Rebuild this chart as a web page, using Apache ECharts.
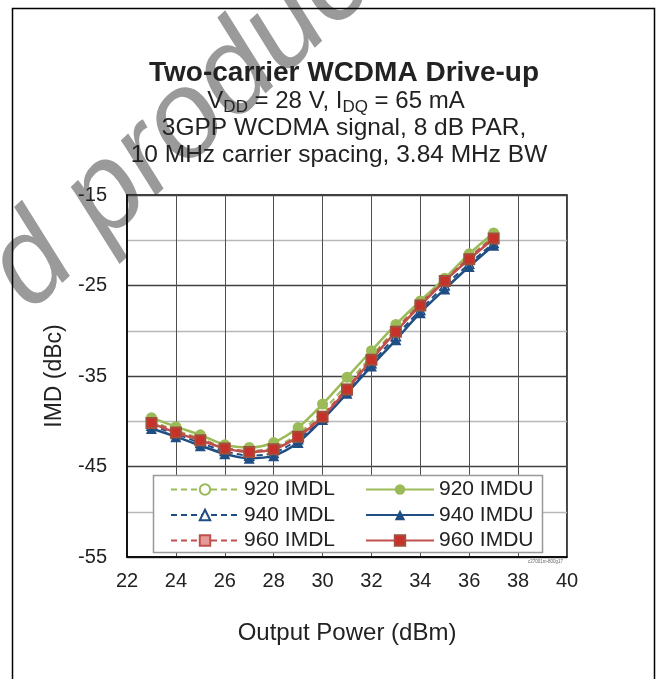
<!DOCTYPE html>
<html>
<head>
<meta charset="utf-8">
<title>Two-carrier WCDMA Drive-up</title>
<script src="https://cdn.jsdelivr.net/npm/echarts@6/dist/echarts.min.js"></script>
<style>
  html, body { margin: 0; padding: 0; background: #fff; }
  #main { width: 667px; height: 679px; }
</style>
</head>
<body>
<div id="main"></div>
<script>
// output power, dBm
var pout = [23, 24, 25, 26, 27, 28, 29, 30, 31, 32, 33, 34, 35, 36, 37];
// IMD, dBc
var imdl920 = [-40.0, -41.0, -41.9, -42.9, -43.3, -42.9, -41.4, -38.9, -35.9, -32.8, -29.8, -27.0, -24.5, -21.9, -19.5];
var imdu920 = [-39.6, -40.6, -41.5, -42.6, -42.9, -42.35, -40.7, -38.1, -35.15, -32.2, -29.3, -26.7, -24.2, -21.5, -19.2];
var imdl940 = [-40.5, -41.4, -42.4, -43.3, -43.8, -43.5, -42.0, -39.6, -36.6, -33.6, -30.6, -27.7, -25.0, -22.6, -20.3];
var imdu940 = [-40.8, -41.7, -42.7, -43.6, -44.1, -43.8, -42.35, -39.8, -36.9, -33.9, -31.0, -28.0, -25.4, -22.9, -20.55];
var imdl960 = [-40.1, -41.1, -42.0, -42.9, -43.3, -43.0, -41.6, -39.3, -36.3, -33.0, -29.9, -27.0, -24.4, -21.9, -19.7];
var imdu960 = [-40.2, -41.25, -42.1, -43.0, -43.4, -43.1, -41.7, -39.5, -36.5, -33.2, -30.1, -27.2, -24.5, -22.1, -19.8];

var xTicks = [22, 40, 2];      // min, max, step
var yTicks = [-55, -15, 5];    // labels every 10 dB, light lines between

var FONT = '"Liberation Sans", Arial, sans-serif';
var GREEN = '#9BBB59', BLUE = '#1F4E85', RED = '#C0504D';

function pts(arr) {
    return pout.map(function (x, i) { return [x, arr[i]]; });
}

var chart = echarts.init(document.getElementById('main'));

var option = {
    backgroundColor: '#fff',
    animation: false,
    textStyle: { fontFamily: FONT },
    grid: {
        left: 127, right: 100, top: 195, bottom: 122,
        show: true, borderColor: '#000', borderWidth: 1.5, backgroundColor: 'transparent'
    },
    xAxis: {
        type: 'value',
        min: xTicks[0], max: xTicks[1], interval: xTicks[2],
        name: 'Output Power (dBm)',
        nameLocation: 'middle',
        nameGap: 64,
        nameTextStyle: { fontSize: 24, color: '#222', fontFamily: FONT },
        axisLine: { show: true, onZero: false, lineStyle: { color: '#000', width: 1.5 } },
        axisTick: { show: false },
        axisLabel: { fontSize: 20, color: '#222', margin: 14, fontFamily: FONT },
        splitLine: { show: true, lineStyle: { color: '#505050', width: 1 } }
    },
    yAxis: {
        type: 'value',
        min: yTicks[0], max: yTicks[1], interval: yTicks[2],
        name: 'IMD (dBc)',
        nameLocation: 'middle',
        nameGap: 61,
        nameTextStyle: { fontSize: 23, color: '#222', fontFamily: FONT },
        axisLine: { show: true, lineStyle: { color: '#000', width: 1.5 } },
        axisTick: { show: false },
        axisLabel: {
            fontSize: 20, color: '#222', margin: 20, fontFamily: FONT,
            formatter: function (v) { return ((v + 15) % 10 === 0) ? String(v) : ''; }
        },
        splitLine: { show: true, lineStyle: { color: ['#404040', '#b8b8b8'], width: 1.3 } }
    },
    legend: [{
        data: ['920 IMDL', '940 IMDL', '960 IMDL'],
        orient: 'vertical', left: 170, top: 477, padding: 0,
        itemWidth: 68, itemHeight: 13, itemGap: 0.5,
        textStyle: { fontSize: 21, lineHeight: 25, color: '#222', fontFamily: FONT }
    }, {
        data: ['920 IMDU', '940 IMDU', '960 IMDU'],
        orient: 'vertical', left: 365, top: 477, padding: 0,
        itemWidth: 68, itemHeight: 13, itemGap: 0.5,
        textStyle: { fontSize: 21, lineHeight: 25, color: '#222', fontFamily: FONT }
    }],
    graphic: [
        // watermark
        {
            type: 'text', x: 7, y: 288, rotation: 0.75, z: -10, silent: true,
            style: {
                text: 'd product', fill: '#9a9a9a',
                fontSize: 122, fontStyle: 'italic', fontFamily: FONT,
                textAlign: 'left', textVerticalAlign: 'middle'
            }
        },
        // outer frame
        {
            type: 'rect', z: 10, silent: true,
            shape: { x: 12.5, y: 8.5, width: 642, height: 700 },
            style: { fill: 'none', stroke: '#000', lineWidth: 1.5 }
        },
        // legend box
        {
            type: 'rect', z: 3, silent: true,
            shape: { x: 153.5, y: 475.5, width: 389, height: 77 },
            style: { fill: '#fff', stroke: '#999', lineWidth: 1.5 }
        },
        {
            type: 'text', x: 344, y: 73, z: 10,
            style: {
                text: 'Two-carrier WCDMA Drive-up', fill: '#222',
                fontSize: 28, fontWeight: 'bold', fontFamily: FONT,
                textAlign: 'center', textVerticalAlign: 'middle'
            }
        },
        {
            type: 'text', x: 336, y: 101, z: 10,
            style: {
                text: '{n|V}{s|DD}{n| = 28 V, I}{s|DQ}{n| = 65 mA}',
                textAlign: 'center', textVerticalAlign: 'middle',
                rich: {
                    n: { fontSize: 24, lineHeight: 24, fill: '#222', fontFamily: FONT },
                    s: { fontSize: 17, height: 11, fill: '#222', fontFamily: FONT, verticalAlign: 'bottom' }
                }
            }
        },
        {
            type: 'text', x: 344, y: 128, z: 10,
            style: {
                text: '3GPP WCDMA signal, 8 dB PAR,', fill: '#222',
                fontSize: 24.5, fontFamily: FONT,
                textAlign: 'center', textVerticalAlign: 'middle'
            }
        },
        {
            type: 'text', x: 339, y: 155, z: 10,
            style: {
                text: '10 MHz carrier spacing, 3.84 MHz BW', fill: '#222',
                fontSize: 24.5, fontFamily: FONT,
                textAlign: 'center', textVerticalAlign: 'middle'
            }
        },
        {
            type: 'text', x: 528, y: 562, z: 10, silent: true,
            style: { text: 'c27001m-800g17', fill: '#666', fontSize: 4.5, fontFamily: FONT, textVerticalAlign: 'middle' }
        }
    ],
    series: [{
        name: '920 IMDL', type: 'line', smooth: 0.3, data: pts(imdl920),
        symbol: 'circle', symbolSize: 9,
        lineStyle: { color: GREEN, width: 2, type: [6, 4] },
        itemStyle: { color: '#fff', borderColor: GREEN, borderWidth: 1.5 }
    }, {
        name: '920 IMDU', type: 'line', smooth: 0.3, data: pts(imdu920),
        symbol: 'circle', symbolSize: 11,
        lineStyle: { color: GREEN, width: 2.5 },
        itemStyle: { color: GREEN }
    }, {
        name: '940 IMDL', type: 'line', smooth: 0.3, data: pts(imdl940),
        symbol: 'triangle', symbolSize: 9,
        lineStyle: { color: BLUE, width: 2, type: [6, 4] },
        itemStyle: { color: '#fff', borderColor: BLUE, borderWidth: 1.5 }
    }, {
        name: '940 IMDU', type: 'line', smooth: 0.3, data: pts(imdu940),
        symbol: 'triangle', symbolSize: 11,
        lineStyle: { color: BLUE, width: 2.5 },
        itemStyle: { color: BLUE }
    }, {
        name: '960 IMDL', type: 'line', smooth: 0.3, data: pts(imdl960),
        symbol: 'rect', symbolSize: 7,
        lineStyle: { color: RED, width: 2, type: [6, 4] },
        itemStyle: { color: '#e59a97', borderColor: RED, borderWidth: 1 }
    }, {
        name: '960 IMDU', type: 'line', smooth: 0.3, data: pts(imdu960),
        symbol: 'rect', symbolSize: 10,
        lineStyle: { color: RED, width: 2.5 },
        itemStyle: { color: '#c8302a', borderColor: '#a0503a', borderWidth: 2 }
    }]
};

chart.setOption(option);
</script>
</body>
</html>
